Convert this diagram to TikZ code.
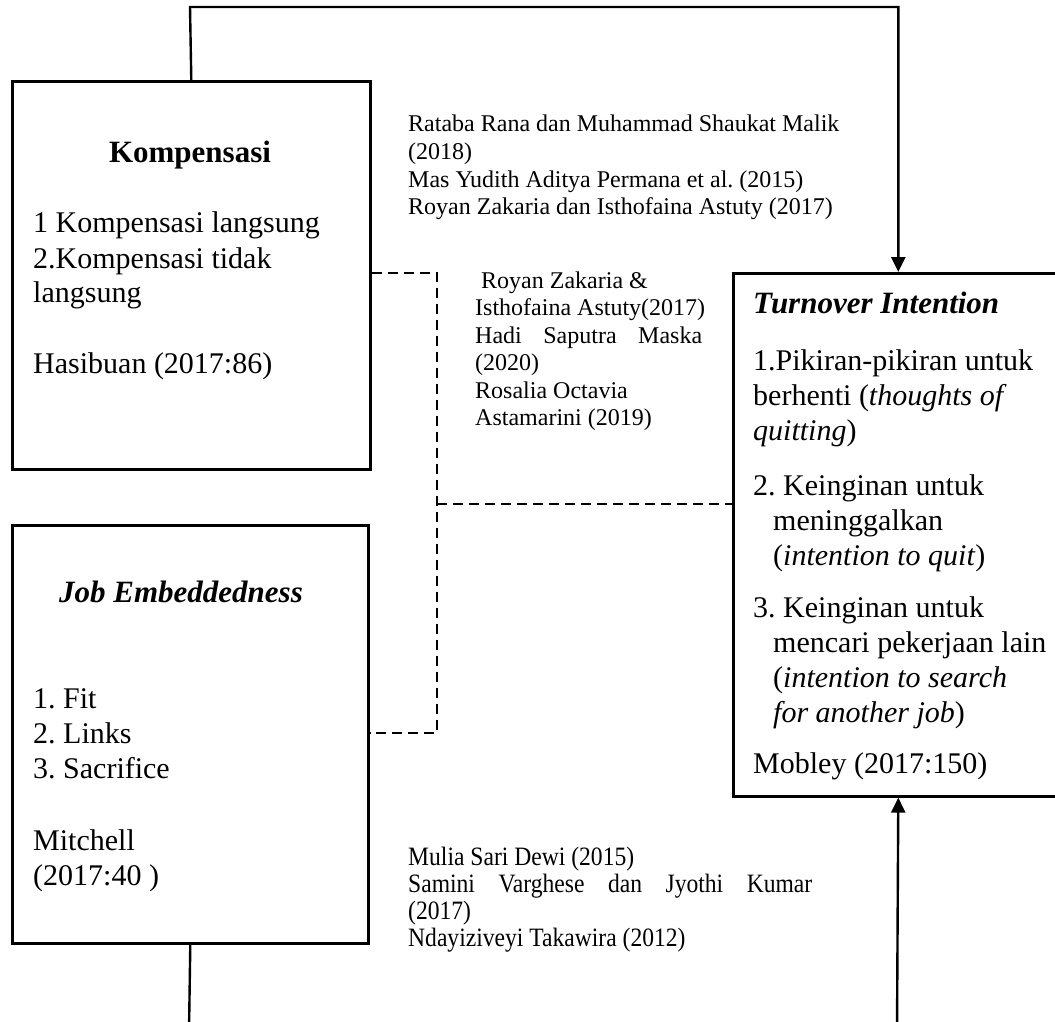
\documentclass[tikz,border=0pt]{standalone}
\usepackage{fontspec}
\usepackage{graphicx}
\setmainfont{Liberation Serif}
\usetikzlibrary{arrows.meta}
\frenchspacing
\begin{document}
\begin{tikzpicture}[x=1pt,y=-1pt,
  boxnode/.style={draw, line width=2.6pt, inner sep=0pt, anchor=north west},
  conn/.style={line width=2.4pt},
  dconn/.style={line width=2.4pt, dash pattern=on 10pt off 6pt},
  arr/.style={-{Triangle[length=15pt,width=14pt]}},
  big/.style={font=\fontsize{30pt}{35pt}\selectfont, inner sep=0pt, anchor=base west},
  btitle/.style={font=\fontsize{31pt}{35pt}\selectfont\bfseries, inner sep=0pt, anchor=base},
  bititle/.style={font=\fontsize{31pt}{35pt}\selectfont\bfseries\itshape, inner sep=0pt},
  small/.style={font=\fontsize{24pt}{27.5pt}\selectfont, inner sep=0pt, anchor=base west},
  narrow/.style={font=\fontsize{26.5pt}{27.5pt}\selectfont, inner sep=0pt, anchor=base west}]
\useasboundingbox (0,0) rectangle (1055,1022);

% boxes
\node[boxnode, minimum width=358pt, minimum height=388pt] (komp) at (11,80) {};
\node[boxnode, minimum width=356pt, minimum height=418pt] (je) at (11,524) {};
\node[boxnode, minimum width=330pt, minimum height=523pt] (ti) at (732,272) {};

% solid connectors
\coordinate (topl) at (190,7);
\draw[conn, arr] (komp.north) -- (topl) -| (ti.north);
\coordinate (jeb) at (189,1032);
\draw[conn] (je.south) -- (jeb);
\coordinate (tib) at (897,1032);
\draw[conn, arr] (tib) -- (ti.south);

% dashed connectors
\coordinate (dk) at (437,273);
\coordinate (dm) at (437,504);
\coordinate (dj) at (437,733);
\draw[dconn] (komp.east |- dk) -- (dk) -- (dj) -- (je.east |- dj);
\draw[dconn] (dm) -- (ti.west |- dm);

% Kompensasi text
\node[btitle] (kt) at (190,162) {Kompensasi};
\node[big] (k1) at (33,232) {1 Kompensasi langsung};
\node[big] (k2) at (33,268) {2.Kompensasi tidak};
\node[big] (k3) at (33,302) {langsung};
\node[big] (k4) at (33,373) {Hasibuan (2017:86)};

% Job Embeddedness text
\node[bititle, anchor=base] (jt) at (181,602) {Job Embeddedness};
\node[big] (j1) at (33,708) {1. Fit};
\node[big] (j2) at (33,743) {2. Links};
\node[big] (j3) at (33,778) {3. Sacrifice};
\node[big] (j4) at (33,850) {Mitchell};
\node[big] (j5) at (33,885) {(2017:40 )};

% Turnover Intention text
\node[bititle, anchor=base west] (tt) at (753,313) {Turnover Intention};
\node[big] (t1) at (753,370) {1.Pikiran-pikiran untuk};
\node[big] (t2) at (753,405) {berhenti (\textit{thoughts of}};
\node[big] (t3) at (753,440) {\textit{quitting})};
\node[big] (t4) at (753,495) {2. Keinginan untuk};
\node[big] (t5) at (773,530) {meninggalkan};
\node[big] (t6) at (773,565) {(\textit{intention to quit})};
\node[big] (t7) at (753,617) {3. Keinginan untuk};
\node[big] (t8) at (773,652) {mencari pekerjaan lain};
\node[big] (t9) at (773,687) {(\textit{intention to search}};
\node[big] (t10) at (773,722) {\textit{for another job})};
\node[big] (t11) at (753,773) {Mobley (2017:150)};

% top references
\node[small] (r1) at (408,132) {Rataba Rana dan Muhammad Shaukat Malik};
\node[small] (r2) at (408,159.5) {(2018)};
\node[small] (r3) at (408,187) {Mas Yudith Aditya Permana et al. (2015)};
\node[small] (r4) at (408,214.5) {Royan Zakaria dan Isthofaina Astuty (2017)};

% middle references
\node[small] (m1) at (481,288) {Royan Zakaria \&};
\node[small] (m2) at (475,315.5) {Isthofaina Astuty(2017)};
\node[small] (m3) at (475,343) {\makebox[227pt][s]{Hadi Saputra Maska}};
\node[small] (m4) at (475,370.5) {(2020)};
\node[small] (m5) at (475,398) {Rosalia Octavia};
\node[small] (m6) at (475,425.5) {Astamarini (2019)};

% bottom references
\node[narrow] (b1) at (408,865) {\scalebox{0.89}[1]{Mulia Sari Dewi (2015)}};
\node[narrow] (b2) at (408,892) {\scalebox{0.89}[1]{\makebox[454pt][s]{Samini Varghese dan Jyothi Kumar}}};
\node[narrow] (b3) at (408,919) {\scalebox{0.89}[1]{(2017)}};
\node[narrow] (b4) at (408,946) {\scalebox{0.89}[1]{Ndayiziveyi Takawira (2012)}};
\end{tikzpicture}
\end{document}
